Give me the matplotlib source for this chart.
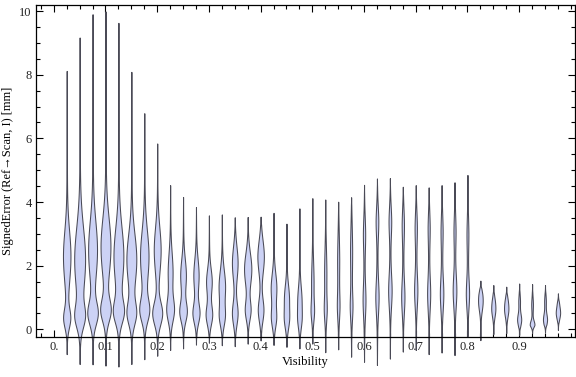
import numpy as np
import matplotlib.pyplot as plt
from matplotlib.ticker import MultipleLocator, FixedLocator

plt.rcParams['font.family'] = ['Liberation Serif', 'DejaVu Serif']

# violin positions (visibility bins)
visibility = [0.025, 0.05, 0.075, 0.1, 0.125, 0.15, 0.175, 0.2, 0.225, 0.25,
              0.275, 0.3, 0.325, 0.35, 0.375, 0.4, 0.425, 0.45, 0.475, 0.5,
              0.525, 0.55, 0.575, 0.6, 0.625, 0.65, 0.675, 0.7, 0.725, 0.75,
              0.775, 0.8, 0.825, 0.85, 0.875, 0.9, 0.925, 0.95, 0.975]

# min / max signed error per bin
err_min = [-0.78, -1.09, -1.10, -1.14, -1.17, -1.09, -0.94, -0.83, -0.65, -0.60,
           -0.48, -0.42, -0.50, -0.53, -0.45, -0.35, -0.49, -0.55, -0.60, -0.45,
           -0.72, -0.63, -0.86, -1.02, -1.12, -0.92, -0.70, -0.65, -0.78, -0.73,
           -0.81, -0.22, -0.34, -0.15, -0.12, -0.18, -0.12, -0.10, -0.02]
err_max = [8.12, 9.17, 9.90, 9.99, 9.63, 8.09, 6.79, 5.84, 4.53, 4.16,
           3.84, 3.58, 3.61, 3.52, 3.53, 3.54, 3.66, 3.32, 3.80, 4.12,
           4.08, 4.01, 4.15, 4.54, 4.74, 4.75, 4.48, 4.53, 4.46, 4.53,
           4.62, 4.85, 1.53, 1.39, 1.34, 1.44, 1.42, 1.39, 1.13]

# upper density mode: centre, spread, half width (px)
up_c = [2.3, 2.2, 2.5, 2.6, 2.3, 2.2, 2.3, 2.5, 1.8, 1.7,
        1.7, 1.5, 1.35, 2.1, 1.9, 2.3, 1.3, 1.0, 0.95, 1.5,
        1.8, 2.2, 2.5, 3.0, 3.4, 3.4, 3.3, 3.2, 3.2, 3.1,
        3.1, 3.0, 1.1, 0.9, 0.9, 0.9, 0.8, 0.9, 0.8]
up_s = [0.8, 1.0, 0.9, 0.9, 0.9, 0.8, 0.8, 0.7, 0.6, 0.5,
        0.5, 0.4, 0.5, 0.5, 0.5, 0.5, 0.45, 0.4, 0.4, 0.6,
        0.7, 0.8, 0.8, 0.5, 0.45, 0.45, 0.5, 0.5, 0.5, 0.5,
        0.5, 0.5, 0.2, 0.2, 0.2, 0.2, 0.2, 0.2, 0.2]
up_w = [3.3, 5.0, 4.0, 4.5, 4.5, 4.5, 3.8, 3.0, 2.0, 2.4,
        2.2, 2.4, 2.8, 2.4, 3.2, 2.8, 2.4, 2.0, 1.6, 0.8,
        0.7, 0.6, 0.6, 0.7, 0.9, 0.9, 0.7, 0.7, 0.6, 0.6,
        0.6, 0.5, 0.8, 0.6, 0.6, 0.4, 0.4, 0.4, 0.4]

# lower density mode: centre, spread, half width (px)
lo_c = [0.35, 0.4, 0.5, 0.6, 0.55, 0.5, 0.6, 0.5, 0.6, 0.55,
        0.5, 0.45, 0.4, 0.5, 0.6, 0.6, 0.35, 0.3, 0.3, 0.55,
        0.6, 0.7, 0.7, 0.9, 1.0, 1.2, 1.0, 1.2, 1.1, 1.1,
        1.2, 1.1, 0.8, 0.6, 0.6, 0.3, 0.15, 0.3, 0.5]
lo_s = [0.3, 0.35, 0.35, 0.35, 0.35, 0.35, 0.35, 0.35, 0.35, 0.3,
        0.3, 0.3, 0.3, 0.35, 0.3, 0.35, 0.3, 0.3, 0.3, 0.3,
        0.35, 0.4, 0.4, 0.5, 0.5, 0.5, 0.5, 0.5, 0.5, 0.5,
        0.5, 0.45, 0.25, 0.22, 0.22, 0.18, 0.12, 0.18, 0.18]
lo_w = [3.0, 4.0, 4.5, 4.5, 4.5, 4.0, 4.2, 4.5, 3.2, 3.2,
        3.0, 2.8, 2.2, 2.4, 2.4, 2.4, 2.0, 1.8, 1.4, 1.1,
        0.9, 0.8, 0.9, 1.0, 1.2, 1.3, 1.2, 1.2, 1.1, 1.3,
        1.4, 1.2, 1.5, 1.4, 1.5, 1.6, 1.9, 1.6, 1.6]

tail_w = 0.45

fig = plt.figure(figsize=(5.76, 3.77), dpi=100)
ax = fig.add_axes([36 / 576, 40.3 / 377, 539 / 576, 332 / 377])
xlo, xhi = -0.0344, 1.008
ax.set_xlim(xlo, xhi)
ax.set_ylim(-0.232, 10.2)
px = (xhi - xlo) / 539.0

for i, xc in enumerate(visibility):
    a, b = err_min[i], err_max[i]
    y = np.linspace(a, b, 400)
    g1 = up_w[i] * np.exp(-0.5 * ((y - up_c[i]) / up_s[i]) ** 2)
    g2 = lo_w[i] * np.exp(-0.5 * ((y - lo_c[i]) / lo_s[i]) ** 2)
    tail = tail_w * np.clip((b - y) / (b - up_c[i]), 0, 1) * np.clip((y - a) / (lo_c[i] - a), 0, 1)
    end = np.clip(np.minimum(b - y, y - a) / 0.25, 0, 1)
    hw = (g1 + g2 + tail) * end * px
    ax.fill_betweenx(y, xc - hw, xc + hw, facecolor='#ccd2f5',
                     edgecolor='#4a4a56', linewidth=0.75, clip_on=False, zorder=2)

ax.xaxis.set_major_locator(FixedLocator([0, 0.1, 0.2, 0.3, 0.4, 0.5, 0.6, 0.7, 0.8, 0.9]))
ax.set_xticklabels(['0.', '0.1', '0.2', '0.3', '0.4', '0.5', '0.6', '0.7', '0.8', '0.9'])
ax.xaxis.set_minor_locator(MultipleLocator(0.025))
ax.yaxis.set_major_locator(FixedLocator([0, 2, 4, 6, 8, 10]))
ax.yaxis.set_minor_locator(MultipleLocator(0.5))

ax.tick_params(which='both', direction='in', top=True, right=True,
               labelsize=9, labelcolor='#222222', width=0.8, pad=3)
ax.tick_params(which='major', length=5)
ax.tick_params(which='minor', length=3)
for s in ax.spines.values():
    s.set_linewidth(0.9)

ax.set_xlabel('Visibility', fontsize=9, labelpad=2)
ax.set_ylabel('SignedError (Ref\u2192Scan, I) [mm]', fontsize=9, labelpad=4)

fig.savefig('out.png', dpi=100)
